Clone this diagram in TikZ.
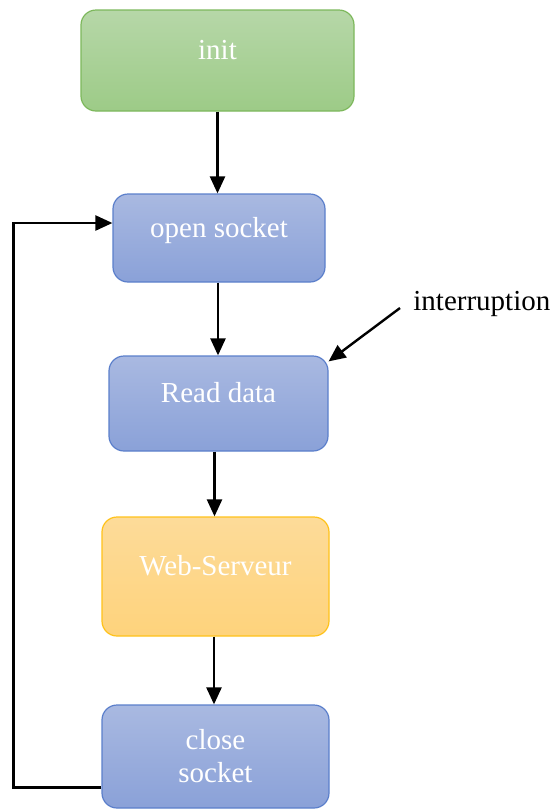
\documentclass[tikz,border=0pt]{standalone}
\usepackage{fontspec}
\setmainfont{Liberation Serif}
\usetikzlibrary{arrows.meta}

\definecolor{bluetop}{HTML}{A9B9E1}
\definecolor{bluebot}{HTML}{8AA1D8}
\definecolor{blueline}{HTML}{5B7FCB}
\definecolor{greentop}{HTML}{B6D7A8}
\definecolor{greenbot}{HTML}{9DCB87}
\definecolor{greenline}{HTML}{7DB85C}
\definecolor{orangetop}{HTML}{FDDB99}
\definecolor{orangebot}{HTML}{FED37C}
\definecolor{orangeline}{HTML}{FFC21A}

\begin{document}
\begin{tikzpicture}
[
	x=0.5pt, y=-0.5pt,
	font=\fontsize{14.5}{16.5}\selectfont,
	box/.style={rectangle,rounded corners=7.5pt,draw,line width=0.6pt,text=white,
		text height=10pt,text depth=11pt,align=center},
	bluebox/.style={box,draw=blueline,top color=bluetop,bottom color=bluebot},
	greenbox/.style={box,draw=greenline,top color=greentop,bottom color=greenbot},
	orangebox/.style={box,draw=orangeline,top color=orangetop,bottom color=orangebot},
	link/.style={-{Triangle[length=8.5pt,width=7.5pt]},line width=1.2pt}
]

	\useasboundingbox (0,0) rectangle (555,810);

	% states
	\node[greenbox,minimum width=136.5pt,minimum height=50.5pt] at (217.5,60.5) (init) {init};
	\node[bluebox,minimum width=106pt,minimum height=44pt] at (219,238) (open) {open socket};
	\node[bluebox,minimum width=109.5pt,minimum height=47.5pt] at (218.5,403.5) (read) {Read data};
	\node[orangebox,minimum width=113.5pt,minimum height=59.5pt] at (215.5,576.5) (web) {Web-Serveur};
	\node[bluebox,minimum width=113.5pt,minimum height=51.5pt,text height=,text depth=] at (215.5,756.5) (close) {close\\socket};

	% external event
	\node[anchor=west,inner sep=0pt] at (413,304) (intr) {interruption};

	% main chain
	\draw[link] (init.south) -- (init.south |- open.north);
	\draw[link] ([xshift=-0.5pt]open.south) -- ([xshift=-0.5pt]open.south |- read.north);
	\draw[link] ([xshift=-2pt]read.south) -- ([xshift=-2pt]read.south |- web.north);
	\draw[link] ([xshift=-0.75pt]web.south) -- ([xshift=-0.75pt]web.south |- close.north);

	% back to open socket
	\draw[link] ([yshift=-15.5pt]close.west) -- ++(-88,0) |- ([yshift=7.5pt]open.west);

	% interruption
	\draw[link] ([xshift=-6.5pt,yshift=-2pt]intr.west) -- ([yshift=-3pt]read.north east);

\end{tikzpicture}
\end{document}
